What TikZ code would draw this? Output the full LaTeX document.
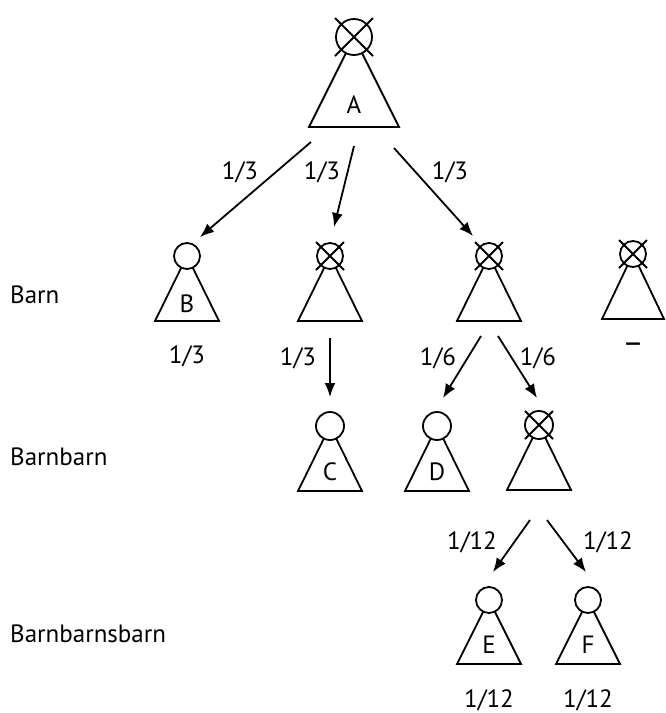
\documentclass[tikz,border=0pt]{standalone}
\usepackage{fontspec}
\setmainfont{PT Sans}
\usetikzlibrary{arrows.meta}
\tikzset{
  ln/.style={line width=1.8pt, line join=miter},
  bub/.style={circle, draw, fill=white, inner sep=0pt, line width=1.8pt},
  arr/.style={line width=1.8pt, -{Latex[length=14pt,width=11pt]}},
  txt/.style={font=\fontsize{25}{27}\selectfont, inner sep=0pt},
}
% #1 name, #2 x, #3 circle y, #4 base y, #5 half width, #6 radius
\newcommand\treenode[6]{%
  \draw[ln] (#2-#5,-#4) -- (#2,-#3) -- (#2+#5,-#4) -- cycle;
  \node[bub, minimum size=#6*2pt] (#1) at (#2,-#3) {};
}
\newcommand\crossit[2]{% name, extent
  \draw[ln] ([shift={(-#2pt,#2pt)}]#1.center) -- ([shift={(#2pt,-#2pt)}]#1.center);
  \draw[ln] ([shift={(#2pt,#2pt)}]#1.center) -- ([shift={(-#2pt,-#2pt)}]#1.center);
}
\begin{document}
\begin{tikzpicture}[x=1pt,y=1pt]
\useasboundingbox (0,0) rectangle (666,-713);

% top
\treenode{A}{354}{37}{127}{45}{18}
\crossit{A}{19}
\node[txt] (la) at (354,-105) {A};

% level 2
\treenode{B}{187}{256}{321}{32}{13}
\node[txt] (lb) at (187,-304) {B};
\treenode{n2}{330}{256}{321}{32}{13}
\crossit{n2}{14}
\treenode{n3}{489}{256}{321}{32}{13}
\crossit{n3}{14}
\treenode{n4}{633}{254}{319}{31}{13}
\crossit{n4}{14}

% level 3
\treenode{C}{330}{426}{491}{32}{14}
\node[txt] (lc) at (330,-472) {C};
\treenode{D}{437}{426}{491}{32}{14}
\node[txt] (ld) at (437,-472) {D};
\treenode{n5}{539}{425}{490}{32}{14}
\crossit{n5}{14}

% level 4
\treenode{E}{489}{600}{664}{32}{13}
\node[txt] (le) at (489,-645) {E};
\treenode{F}{588}{600}{664}{32}{13}
\node[txt] (lf) at (588,-645) {F};

% row labels
\node[txt, anchor=base west] (r1) at (10,-303) {Barn};
\node[txt, anchor=base west] (r2) at (10,-465) {Barnbarn};
\node[txt, anchor=base west] (r3) at (10,-642) {Barnbarnsbarn};

% shares under nodes
\node[txt] (sb) at (187,-356) {1/3};
\node[txt, scale=1.3] (s4) at (633,-348) {–};
\node[txt] (se) at (489,-700) {1/12};
\node[txt] (sf) at (588,-700) {1/12};

% arrow ends
\coordinate (a1s) at (311,-142); \coordinate (a1e) at (200,-237);
\coordinate (a2s) at (354,-146); \coordinate (a2e) at (334,-227);
\coordinate (a3s) at (394,-148); \coordinate (a3e) at (473,-236);
\coordinate (b1s) at (330,-338); \coordinate (b1e) at (330,-397);
\coordinate (b2s) at (481,-336); \coordinate (b2e) at (443,-398);
\coordinate (b3s) at (498,-336); \coordinate (b3e) at (537,-398);
\coordinate (c1s) at (530,-520); \coordinate (c1e) at (493,-572);
\coordinate (c2s) at (547,-520); \coordinate (c2e) at (586,-572);

\draw[arr] (a1s) -- (a1e);
\draw[arr] (a2s) -- (a2e);
\draw[arr] (a3s) -- (a3e);
\draw[arr] (b1s) -- (b1e);
\draw[arr] (b2s) -- (b2e);
\draw[arr] (b3s) -- (b3e);
\draw[arr] (c1s) -- (c1e);
\draw[arr] (c2s) -- (c2e);

% arrow labels
\node[txt] (t1) at (240,-172) {1/3};
\node[txt] (t2) at (322,-172) {1/3};
\node[txt] (t3) at (450,-172) {1/3};
\node[txt] (t4) at (298,-358) {1/3};
\node[txt] (t5) at (438,-358) {1/6};
\node[txt] (t6) at (538,-358) {1/6};
\node[txt] (t7) at (472,-542) {1/12};
\node[txt] (t8) at (608,-542) {1/12};
\end{tikzpicture}
\end{document}
